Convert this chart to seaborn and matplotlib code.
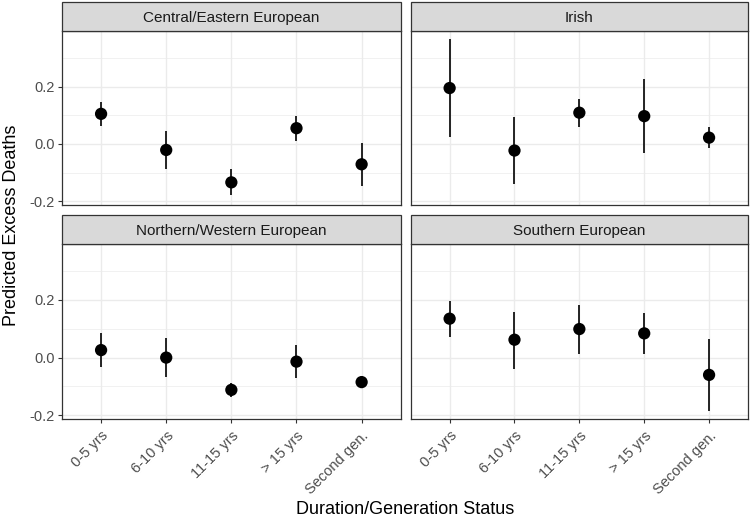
import matplotlib
matplotlib.use("Agg")
import matplotlib.pyplot as plt
from matplotlib.patches import Rectangle
from matplotlib.ticker import FixedLocator, FuncFormatter
import seaborn as sns
import pandas as pd
import numpy as np

regions = ["Central/Eastern European", "Irish", "Northern/Western European", "Southern European"]
statuses = ["0-5 yrs", "6-10 yrs", "11-15 yrs", "> 15 yrs", "Second gen."]

est_central = [0.105, -0.021, -0.134, 0.055, -0.071]
lo_central = [0.063, -0.088, -0.178, 0.010, -0.145]
hi_central = [0.145, 0.045, -0.088, 0.098, 0.005]

est_irish = [0.195, -0.023, 0.109, 0.097, 0.022]
lo_irish = [0.023, -0.140, 0.058, -0.033, -0.015]
hi_irish = [0.366, 0.093, 0.158, 0.226, 0.058]

est_north = [0.026, 0.000, -0.112, -0.014, -0.085]
lo_north = [-0.033, -0.067, -0.136, -0.072, -0.096]
hi_north = [0.085, 0.067, -0.087, 0.043, -0.073]

est_south = [0.135, 0.062, 0.099, 0.084, -0.060]
lo_south = [0.070, -0.038, 0.014, 0.014, -0.186]
hi_south = [0.198, 0.159, 0.183, 0.155, 0.064]

ests = [est_central, est_irish, est_north, est_south]
los = [lo_central, lo_irish, lo_north, lo_south]
his = [hi_central, hi_irish, hi_north, hi_south]

rows = []
for r, e, l, h in zip(regions, ests, los, his):
    for s, ev, lv, hv in zip(statuses, e, l, h):
        rows.append(dict(region=r, status=s, est=ev, lo=lv, hi=hv))
df = pd.DataFrame(rows)
df["status"] = pd.Categorical(df["status"], categories=statuses, ordered=True)
df["xpos"] = df["status"].cat.codes

sns.set_theme(style="white")
plt.rcParams["font.family"] = ["Liberation Sans", "DejaVu Sans"]

W, H = 750, 520
g = sns.FacetGrid(df, col="region", col_wrap=2, col_order=regions,
                  sharex=True, sharey=True, height=2.6, aspect=1.44)
g.figure.set_size_inches(7.5, 5.2)

def draw(data, **kw):
    ax = plt.gca()
    ax.vlines(data["xpos"], data["lo"], data["hi"], color="black", lw=1.2, zorder=3)
    sns.scatterplot(data=data, x="xpos", y="est", color="black", s=78,
                    edgecolor="none", ax=ax, zorder=4)

g.map_dataframe(draw)

# layout in pixels: (left, top, right, bottom)
boxes = [(62, 31, 400.7, 205), (410.7, 31, 748, 205),
         (62, 244, 400.7, 419), (410.7, 244, 748, 419)]
strip_h = 29.5
ylo, yhi = -0.213, 0.394
for i, ax in enumerate(g.axes.flat):
    l, t, r, b = boxes[i]
    ax.set_position([l / W, 1 - b / H, (r - l) / W, (b - t) / H])
    ax.set_xlim(-0.6, 4.6)
    ax.set_ylim(ylo, yhi)
    ax.set_facecolor("white")
    ax.yaxis.set_major_locator(FixedLocator([-0.2, 0.0, 0.2]))
    ax.yaxis.set_minor_locator(FixedLocator([-0.1, 0.1, 0.3]))
    ax.xaxis.set_major_locator(FixedLocator(range(5)))
    ax.grid(True, which="major", color="#EBEBEB", lw=1.0)
    ax.grid(True, which="minor", axis="y", color="#EBEBEB", lw=0.5)
    ax.set_axisbelow(True)
    for sp in ax.spines.values():
        sp.set_visible(True)
        sp.set_color("#333333")
        sp.set_linewidth(0.9)
        sp.set_zorder(5)
    ax.tick_params(axis="both", which="major", length=3.0, width=0.8, color="#333333",
                   labelsize=10.5, labelcolor="#4D4D4D", pad=2, direction="out")
    ax.tick_params(axis="x", which="major", pad=4)
    ax.tick_params(axis="both", which="minor", length=0)
    ax.yaxis.set_major_formatter(FuncFormatter(lambda v, p: f"{v:.1f}".replace("\u2212", "-")))
    ax.tick_params(left=(i % 2 == 0), labelleft=(i % 2 == 0),
                   bottom=(i >= 2), labelbottom=(i >= 2))
    if i >= 2:
        ax.set_xticks(range(5))
        ax.set_xticklabels(statuses, rotation=45, ha="right", va="top", rotation_mode="anchor")
    ax.set_xlabel("")
    ax.set_ylabel("")
    ax.set_title("")
    ph = b - t
    rect = Rectangle((0, 1), 1, strip_h / ph, transform=ax.transAxes, clip_on=False,
                     facecolor="#D9D9D9", edgecolor="#333333", lw=0.9, zorder=6)
    ax.add_patch(rect)
    base_y = 1 + (strip_h / 2 - 5.5) / ph
    ax.text(0.5, base_y, regions[i], transform=ax.transAxes,
            ha="center", va="baseline", fontsize=11, color="#1A1A1A", zorder=7)

g.figure.text(12 / W, 1 - 225 / H, "Predicted Excess Deaths", rotation=90,
              ha="center", va="center", fontsize=13, color="black")
g.figure.text(405 / W, 1 - 510 / H, "Duration/Generation Status",
              ha="center", va="center", fontsize=13, color="black")

g.figure.savefig("out.png", dpi=100)
